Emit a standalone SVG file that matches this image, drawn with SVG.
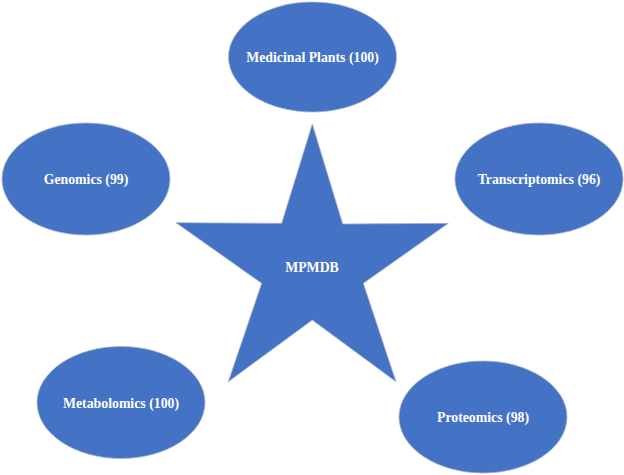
<svg xmlns="http://www.w3.org/2000/svg" width="624" height="475" viewBox="0 0 624 475">
<style>
.shape{fill:#4472C4;stroke:#a9b4c8;stroke-width:0.8}
.lbl{font-family:"Liberation Serif","Times New Roman",serif;font-weight:bold;font-size:13.8px;fill:#ffffff;text-anchor:middle}
</style>
<rect width="624" height="475" fill="#ffffff"/>
<g id="connectors"></g>
<g id="mpmdb">
<polygon class="shape" points="312.3,124 342.7,224 448.3,223.3 363.3,283.3 396,381.7 312.3,320 228.3,381.7 261.7,283.3 176,222.7 281.7,223.3"/>
<text class="lbl" x="312" y="272">MPMDB</text>
</g>
<g id="medicinal-plants">
<ellipse class="shape" cx="312.5" cy="57" rx="84" ry="55"/>
<text class="lbl" x="312.5" y="62">Medicinal Plants (100)</text>
</g>
<g id="genomics">
<ellipse class="shape" cx="86" cy="179" rx="84" ry="56"/>
<text class="lbl" x="86" y="184">Genomics (99)</text>
</g>
<g id="transcriptomics">
<ellipse class="shape" cx="539" cy="179" rx="84" ry="56"/>
<text class="lbl" x="539" y="184">Transcriptomics (96)</text>
</g>
<g id="metabolomics">
<ellipse class="shape" cx="121" cy="402.5" rx="84" ry="56"/>
<text class="lbl" x="121" y="408">Metabolomics (100)</text>
</g>
<g id="proteomics">
<ellipse class="shape" cx="483" cy="417" rx="84" ry="56"/>
<text class="lbl" x="483" y="422">Proteomics (98)</text>
</g>
</svg>
